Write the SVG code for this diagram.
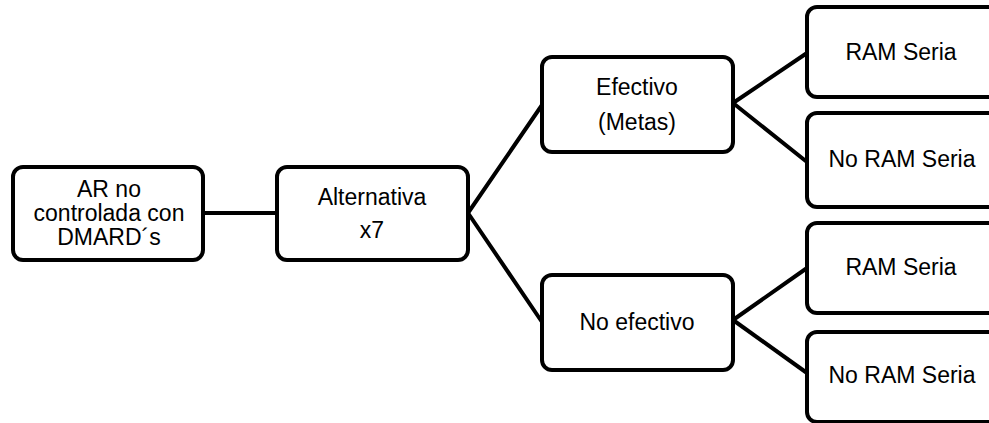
<svg xmlns="http://www.w3.org/2000/svg" width="989" height="423" viewBox="0 0 989 423">
<style>
.box{fill:#fff;stroke:#000;stroke-width:4}
.lbl{font-family:"Liberation Sans",Arial,sans-serif;font-size:23px;fill:#000;text-anchor:middle}
.con line{stroke:#000;stroke-width:4;stroke-linecap:round}
</style>
<rect width="989" height="423" fill="#fff"/>
<g class="con" id="connectors">
<line x1="203" y1="213" x2="277" y2="213"/>
<line x1="468" y1="213" x2="542" y2="105"/>
<line x1="468" y1="213" x2="542" y2="322"/>
<line x1="733" y1="103" x2="807" y2="53"/>
<line x1="733" y1="103" x2="807" y2="162"/>
<line x1="733" y1="320" x2="807" y2="268"/>
<line x1="733" y1="320" x2="807" y2="373"/>
</g>
<g id="n1"><rect class="box" x="13" y="167" width="190" height="93" rx="10"/>
<text class="lbl" x="109" y="197">AR no</text><text class="lbl" x="109" y="221">controlada con</text><text class="lbl" x="109" y="245">DMARD´s</text></g>
<g id="n2"><rect class="box" x="277" y="167" width="191" height="93" rx="10"/>
<text class="lbl" x="372" y="205">Alternativa</text><text class="lbl" x="372" y="238">x7</text></g>
<g id="n3"><rect class="box" x="542" y="57" width="191" height="95" rx="10"/>
<text class="lbl" x="637" y="95">Efectivo</text><text class="lbl" x="637" y="130">(Metas)</text></g>
<g id="n4"><rect class="box" x="542" y="275" width="191" height="95" rx="10"/>
<text class="lbl" x="637" y="330">No efectivo</text></g>
<g id="n5"><rect class="box" x="807" y="7" width="200" height="90" rx="10"/>
<text class="lbl" x="901" y="60">RAM Seria</text></g>
<g id="n6"><rect class="box" x="807" y="113" width="200" height="94" rx="10"/>
<text class="lbl" x="902" y="167">No RAM Seria</text></g>
<g id="n7"><rect class="box" x="807" y="223" width="200" height="90" rx="10"/>
<text class="lbl" x="901" y="275">RAM Seria</text></g>
<g id="n8"><rect class="box" x="807" y="332" width="200" height="90" rx="10"/>
<text class="lbl" x="902" y="383">No RAM Seria</text></g>
</svg>
